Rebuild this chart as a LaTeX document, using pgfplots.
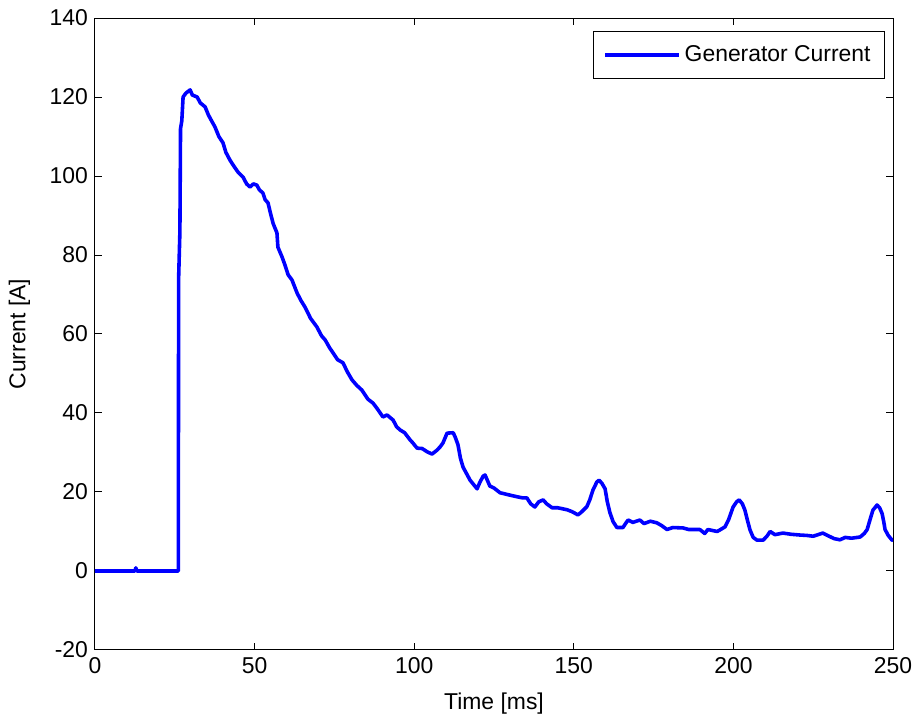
\documentclass[border=0pt]{standalone}
\usepackage{fontspec}
\setmainfont{Liberation Sans}
\usepackage{pgfplots}
\pgfplotsset{compat=1.18}

\begin{document}
\begin{tikzpicture}
  \begin{axis}[
    scale only axis,
    width = 14.08cm,
    height = 11.15cm,
    xmin = 0, xmax = 250,
    ymin = -20, ymax = 140,
    xtick = {0,50,...,250},
    ytick = {-20,0,...,140},
    tick align = inside,
    major tick length = 0.13cm,
    tick style = {black, line width=0.5pt},
    axis line style = {line width=0.5pt},
    font = \fontsize{11.5}{13}\selectfont,
    /pgf/number format/assume math mode=true,
    xlabel = {Time [ms]},
    ylabel = {Current [A]},
    xlabel style = {yshift=-3pt},
    ylabel style = {yshift=3pt},
    legend cell align = left,
    legend style = {at={(0.99,0.979)}, anchor=north east, draw=black,
      line width=0.5pt, inner xsep=5pt, inner ysep=5pt,
      font=\fontsize{11.5}{13}\selectfont},
    legend image code/.code = {\draw[#1] (0cm,0cm) -- (1.3cm,0cm);},
    ]
    \addplot [color={rgb,255:red,0;green,0;blue,255}, line width=1.8pt, line join=round] coordinates {
      (0,0) (12.5,0) (12.8,0.8) (13.1,0) (26,0) (26.1,0) (26.2,74) (26.6,86)
      (26.8,112) (27.2,114) (27.6,120) (28.5,121) (29.8,121.8) (30.5,120.5)
      (32,120) (33,118.5) (34.5,117.5) (35.5,115.5) (36.5,114) (37.6,112.4)
      (38.8,110) (40.1,108.4) (41,106) (42.3,104) (43.5,102.5) (44.8,101)
      (46.4,99.7) (47.5,98) (48.6,97.2) (49.6,98) (50.7,97.7) (51.5,96.5)
      (52.6,95.7) (53.3,94) (54.2,93.2) (55,90.5) (55.8,88) (57,85.6) (57.3,82)
      (58.6,79.5) (59.5,77.5) (60.5,75) (61.7,73.7) (63.3,70.4) (64.5,68.5)
      (65.8,66.8) (67.5,64) (69.5,61.8) (71,59.5) (72.1,58.5) (73.5,56.5)
      (74.6,55.2) (76,53.5) (77.7,52.7) (79,50.5) (80.5,48.4) (82,47) (83.6,45.8)
      (85.5,43.5) (87.1,42.5) (88.5,41) (90.2,39) (91.5,39.5) (93.4,38.2)
      (94.5,36.5) (95.6,35.7) (97,35) (98.7,33.2) (99.6,32.4) (100.9,31.1)
      (102.5,31) (104,30.2) (105.6,29.6) (107,30.5) (108.1,31.4) (109,32.4)
      (110.3,34.9) (112.2,35) (112.8,34) (113.7,32) (114.5,28.5) (115.3,26.3)
      (116.5,24.5) (117.5,23) (118.5,22) (119.7,20.8) (120.6,22.5) (121.6,24)
      (122.2,24.3) (123.7,21.5) (125,21) (126.9,19.8) (128.5,19.5) (130,19.2)
      (132.2,18.8) (134,18.5) (135.3,18.5) (136.5,17) (137.8,16.2) (139,17.5)
      (140.4,18) (141.5,17) (143.2,16) (145,16) (147.9,15.5) (149.5,15)
      (151.3,14.2) (152.5,15) (154.1,16.3) (155,18) (156,20.5) (157.2,22.5)
      (157.9,23) (158.8,22.2) (159.8,20.8) (160.5,17.5) (161.3,14.8) (162.3,12.5)
      (163.5,11) (165.4,11) (166.2,12) (167,12.9) (168.5,12.3) (170.7,12.9)
      (172,12) (174,12.6) (176,12.2) (177.5,11.5) (179.2,10.5) (181,11)
      (184.2,10.9) (186,10.5) (189.5,10.5) (191,9.5) (192,10.5) (194.9,10)
      (196,10.5) (197.4,11.2) (198.5,13) (199.9,16.2) (201,17.5) (201.8,18)
      (202.8,17) (203.6,15.4) (204.5,12.5) (205.2,10.4) (206.2,8.5) (207.4,7.8)
      (209.3,7.8) (210.5,8.8) (211.5,10) (213,9.2) (215.5,9.6) (218,9.3)
      (220.9,9.1) (223,9) (225,8.8) (228,9.6) (230,8.8) (231.5,8.2) (233.4,7.9)
      (235,8.5) (237,8.3) (239.7,8.6) (241,9.5) (241.9,10.5) (242.8,13)
      (243.7,15.4) (245,16.7) (245.8,16) (246.6,14.5) (247.2,12) (247.5,10.5)
      (248.5,9) (249.7,7.8) (250,8.2)
    };
    \addlegendentry{Generator Current}
  \end{axis}
  \pgfresetboundingbox
  \path ([shift={(-1.676cm,-1.2cm)}]current axis.south west)
    rectangle ([shift={(0.441cm,0.318cm)}]current axis.north east);
\end{tikzpicture}
\end{document}
